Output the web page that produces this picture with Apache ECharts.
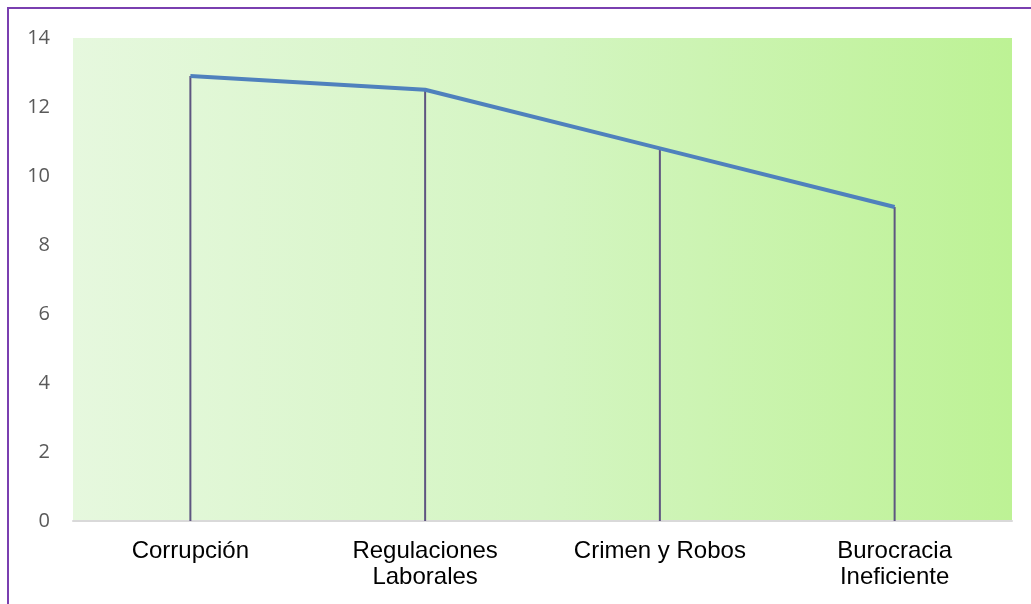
<!DOCTYPE html>
<html>
<head>
<meta charset="utf-8">
<style>
html,body{margin:0;padding:0;background:#fff;}
#c{width:1031px;height:604px;}
</style>
<script src="https://cdn.jsdelivr.net/npm/echarts@6/dist/echarts.min.js"></script>
</head>
<body>
<div id="c"></div>
<script>
var categories = ['Corrupción', 'Regulaciones\nLaborales', 'Crimen y Robos', 'Burocracia\nIneficiente'];
var values = [12.9, 12.5, 10.8, 9.1];
var yTicks = [0, 2, 4, 6, 8, 10, 12, 14];

var chart = echarts.init(document.getElementById('c'));
chart.setOption({
  animation: false,
  backgroundColor: '#fff',
  graphic: [{
    type: 'rect',
    shape: {x: 8, y: 8, width: 1200, height: 800},
    style: {fill: 'none', stroke: '#7a3fb0', lineWidth: 2},
    silent: true
  }],
  grid: {
    left: 73, right: 19, top: 38, bottom: 83,
    show: true, borderWidth: 0,
    backgroundColor: new echarts.graphic.LinearGradient(0, 0, 1, 0, [
      {offset: 0, color: '#e6f8de'},
      {offset: 0.5, color: '#d4f5c2'},
      {offset: 1, color: '#bdf295'}
    ])
  },
  xAxis: {
    type: 'category',
    data: categories,
    boundaryGap: true,
    axisLine: {show: true, lineStyle: {color: '#d9d9d9', width: 2}},
    axisTick: {show: false},
    axisLabel: {
      color: '#000', fontFamily: 'Liberation Sans', fontSize: 24,
      lineHeight: 26, margin: 17, interval: 0
    }
  },
  yAxis: {
    type: 'value',
    min: 0, max: 14, interval: 2,
    axisLine: {show: false},
    axisTick: {show: false},
    splitLine: {show: false},
    axisLabel: {
      color: '#595959', fontFamily: 'Open Sans', fontSize: 20, margin: 23,
      formatter: function (v) { return yTicks.indexOf(v) >= 0 ? String(v) : ''; }
    }
  },
  series: [
    {
      type: 'bar',
      data: values,
      barWidth: 2,
      itemStyle: {color: '#5e5580'},
      silent: true
    },
    {
      type: 'line',
      data: values,
      symbol: 'none',
      lineStyle: {color: '#4f81bd', width: 4},
      z: 5
    }
  ]
});
</script>
</body>
</html>
